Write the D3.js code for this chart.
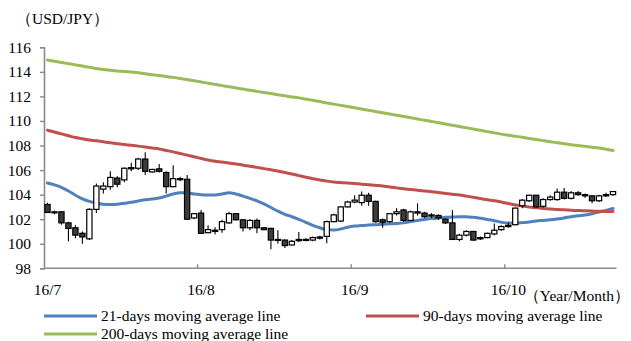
<!DOCTYPE html>
<html>
<head>
<meta charset="utf-8">
<script src="https://cdn.jsdelivr.net/npm/d3@7"></script>
<style>
  html, body { margin: 0; padding: 0; background: #fff; }
  svg text { font-family: "Liberation Serif", "Times New Roman", serif; fill: #000; }
</style>
</head>
<body>
<svg id="chart" width="631" height="341"></svg>
<script>
// USD/JPY daily candles, Jul–Oct 2016
const openPx  = [103.2,102.55,102.6,101.7,101.3,100.85,100.4,102.8,104.45,104.65,105.35,105.2,106.1,106.15,106.9,105.85,106.1,105.8,104.65,105.3,
                 105.25,102.1,102.5,100.9,101.1,101.15,101.7,102.45,101.95,101.3,101.9,101.3,101.25,100.3,100.3,99.9,100.25,100.35,100.3,100.45,
                 100.6,101.8,101.85,103.0,103.4,103.35,103.95,103.45,101.95,101.8,102.45,102.75,101.9,102.6,102.5,102.25,102.3,102.0,101.7,100.35,
                 100.7,101.0,100.4,100.5,100.8,101.15,101.4,101.55,103.1,103.5,103.95,103.05,103.6,103.6,104.2,103.7,104.15,104.0,103.9,103.5,
                 103.9,104.0];
const highPx  = [103.35,102.7,102.65,101.8,101.5,101.0,102.9,104.9,105.0,105.9,105.5,106.2,106.6,107.0,107.45,106.1,106.5,105.9,106.4,105.45,
                 105.6,102.5,102.75,101.5,101.35,101.95,102.6,102.5,102.0,102.0,102.05,101.35,101.3,101.1,100.35,100.3,100.95,100.45,100.6,100.65,
                 101.9,102.45,103.05,103.5,103.95,104.25,104.15,103.5,102.05,102.5,102.9,102.85,102.7,103.3,102.6,102.5,102.4,102.05,102.75,100.8,
                 101.1,101.05,100.6,100.9,101.65,101.5,101.7,102.95,103.65,104.0,104.0,103.7,103.95,104.5,104.55,104.3,104.3,104.1,103.95,104.0,
                 104.15,104.3];
const lowPx   = [102.5,102.4,101.55,100.2,100.45,100.0,100.3,102.5,104.1,104.4,104.6,105.0,105.9,106.0,105.6,105.8,105.8,104.1,104.6,105.1,
                 101.95,102.0,100.8,100.85,100.75,100.9,101.6,101.9,101.0,101.1,100.85,101.1,99.55,100.0,99.65,99.85,100.15,100.2,100.2,100.35,
                 100.05,101.75,101.75,102.95,103.3,103.1,103.1,101.7,101.3,101.7,102.3,101.8,101.85,102.3,102.1,102.1,101.95,101.6,100.3,100.2,
                 100.6,100.25,100.3,100.45,100.7,101.05,101.3,101.5,102.9,103.4,102.95,102.95,103.5,103.5,103.6,103.6,103.9,103.75,103.3,103.4,
                 103.8,103.9];
const closePx = [102.55,102.6,101.7,101.25,100.7,100.55,102.8,104.7,104.7,105.4,104.85,106.15,106.2,106.9,105.9,106.05,105.9,104.65,105.3,105.25,
                 102.0,102.45,100.85,101.15,101.0,101.8,102.45,101.95,101.3,101.9,101.3,101.15,100.3,100.35,99.85,100.2,100.35,100.3,100.5,100.55,
                 101.8,102.35,103.0,103.4,103.55,103.95,103.45,101.8,101.75,102.45,102.6,101.9,102.6,102.5,102.2,102.35,102.1,101.7,100.35,100.7,
                 101.0,100.3,100.5,100.85,101.1,101.4,101.5,102.9,103.55,103.95,103.0,103.6,103.8,104.2,103.7,104.15,104.0,103.9,103.5,103.9,
                 104.0,104.25];

// Moving averages, one value per trading day
const ma21  = [104.95,104.8,104.6,104.3,103.95,103.65,103.45,103.3,103.22,103.2,103.22,103.3,103.38,103.48,103.58,103.65,103.72,103.88,104.05,104.15,
               104.15,104.05,104.0,103.98,103.98,104.05,104.15,104.05,103.88,103.7,103.5,103.25,102.95,102.65,102.4,102.2,101.98,101.75,101.5,101.3,
               101.15,101.12,101.2,101.35,101.44,101.48,101.52,101.55,101.58,101.62,101.65,101.7,101.8,101.9,101.98,102.05,102.1,102.15,102.18,102.2,
               102.2,102.15,102.08,101.98,101.88,101.75,101.68,101.68,101.72,101.78,101.85,101.9,101.95,102.02,102.1,102.2,102.28,102.35,102.45,102.58,
               102.72,102.87];
const ma90  = [109.25,109.1,108.95,108.8,108.65,108.55,108.45,108.38,108.3,108.22,108.15,108.08,108.02,107.95,107.88,107.8,107.72,107.6,107.48,107.35,
               107.22,107.08,106.95,106.82,106.72,106.65,106.57,106.5,106.4,106.32,106.22,106.12,106.02,105.92,105.8,105.68,105.55,105.42,105.3,105.2,
               105.1,105.02,104.98,104.94,104.9,104.85,104.8,104.75,104.7,104.62,104.55,104.48,104.42,104.36,104.3,104.24,104.18,104.1,104.03,103.97,
               103.88,103.78,103.68,103.58,103.5,103.4,103.28,103.16,103.08,103.0,102.94,102.88,102.83,102.79,102.76,102.73,102.7,102.68,102.66,102.65,
               102.63,102.62];
const ma200 = [114.97,114.87,114.77,114.67,114.57,114.47,114.38,114.28,114.2,114.13,114.07,114.03,113.98,113.92,113.85,113.77,113.7,113.62,113.55,113.46,
               113.37,113.28,113.18,113.08,112.98,112.88,112.79,112.69,112.6,112.5,112.41,112.32,112.23,112.14,112.05,111.96,111.88,111.78,111.68,111.58,
               111.47,111.37,111.27,111.17,111.07,110.97,110.87,110.77,110.67,110.57,110.47,110.37,110.27,110.16,110.06,109.96,109.86,109.75,109.65,109.55,
               109.45,109.34,109.24,109.13,109.03,108.93,108.84,108.76,108.67,108.58,108.49,108.4,108.31,108.23,108.15,108.07,108.0,107.93,107.86,107.8,
               107.7,107.6];

// Category-axis labels, one every 22 trading days
const monthLabels = ["16/7", "16/8", "16/9", "16/10"];
const labelEvery = 22;
const yTicks = [98, 100, 102, 104, 106, 108, 110, 112, 114, 116];

const seriesNames = ["21-days moving average line", "90-days moving average line", "200-days moving average line"];
const seriesColors = ["#4F81BD", "#C0504D", "#9BBB59"];

(function draw() {
  const days = d3.range(closePx.length);
  const candles = days.map(i => ({ i, o: openPx[i], h: highPx[i], l: lowPx[i], c: closePx[i] }));

  const svg = d3.select("#chart");
  const plotLeft = 44, plotRight = 616.5, plotTop = 47.3, plotBottom = 268.3;
  const axisColor = "#8a8a8a";
  const fontSize = 15.5;

  const x = d3.scaleBand().domain(days).range([plotLeft, plotRight]).paddingInner(0.25).paddingOuter(0.125);
  const y = d3.scaleLinear().domain([98, 116]).range([plotBottom, plotTop]);
  const step = x.step();
  const center = i => x(i) + x.bandwidth() / 2;

  // Y axis
  const yAxis = svg.append("g")
    .attr("transform", `translate(${plotLeft},0)`)
    .call(d3.axisLeft(y).tickValues(yTicks).tickSize(4).tickPadding(9).tickFormat(d3.format("d")));
  yAxis.select(".domain").attr("stroke", axisColor).attr("stroke-width", 1.6);
  yAxis.selectAll(".tick line").attr("stroke", axisColor).attr("stroke-width", 1.4);
  yAxis.selectAll(".tick text").attr("font-size", fontSize).attr("font-family", "Liberation Serif, serif").attr("fill", "#000");

  // X axis line and month ticks (ticks sit on category boundaries, pointing up)
  svg.append("line")
    .attr("x1", plotLeft).attr("x2", plotRight).attr("y1", plotBottom).attr("y2", plotBottom)
    .attr("stroke", axisColor).attr("stroke-width", 1.6);
  const labelIdx = monthLabels.map((_, k) => k * labelEvery);
  svg.append("g").selectAll("line").data(labelIdx.slice(1)).join("line")
    .attr("x1", d => x(d) - (step - x.bandwidth()) / 2)
    .attr("x2", d => x(d) - (step - x.bandwidth()) / 2)
    .attr("y1", plotBottom).attr("y2", plotBottom - 4)
    .attr("stroke", axisColor).attr("stroke-width", 1.4);
  svg.append("g").selectAll("text").data(labelIdx).join("text")
    .attr("x", d => center(d))
    .attr("y", plotBottom + 27)
    .attr("text-anchor", "middle")
    .attr("font-size", fontSize)
    .text((d, k) => monthLabels[k]);

  // Unit labels
  svg.append("text").attr("x", 16).attr("y", 24).attr("font-size", fontSize).text("（USD/JPY）");
  svg.append("text").attr("x", 630).attr("y", 301).attr("text-anchor", "end")
    .attr("font-size", fontSize).text("（Year/Month）");

  // Moving average lines
  const line = d3.line().x((d, i) => center(i)).y(d => y(d)).curve(d3.curveMonotoneX);
  [ma21, ma90, ma200].forEach((s, k) => {
    svg.append("path").datum(s)
      .attr("d", line)
      .attr("fill", "none")
      .attr("stroke", seriesColors[k])
      .attr("stroke-width", 3)
      .attr("stroke-linejoin", "round")
      .attr("stroke-linecap", "round");
  });

  // Candlesticks
  const cg = svg.append("g");
  cg.selectAll("line.wick").data(candles).join("line")
    .attr("class", "wick")
    .attr("x1", d => center(d.i)).attr("x2", d => center(d.i))
    .attr("y1", d => y(d.h)).attr("y2", d => y(d.l))
    .attr("stroke", "#000").attr("stroke-width", 1.1);
  cg.selectAll("rect.body").data(candles).join("rect")
    .attr("class", "body")
    .attr("x", d => x(d.i))
    .attr("width", x.bandwidth())
    .attr("y", d => y(Math.max(d.o, d.c)))
    .attr("height", d => Math.max(1, Math.abs(y(d.o) - y(d.c))))
    .attr("fill", d => d.c >= d.o ? "#ffffff" : "#3c3c3c")
    .attr("stroke", "#000").attr("stroke-width", 1.2);

  // Legend
  const legendItems = [
    { k: 0, lx: 44, ly: 316 },
    { k: 1, lx: 366, ly: 316 },
    { k: 2, lx: 44, ly: 334 }
  ];
  const lg = svg.append("g");
  legendItems.forEach(({ k, lx, ly }) => {
    lg.append("line")
      .attr("x1", lx).attr("x2", lx + 53).attr("y1", ly).attr("y2", ly)
      .attr("stroke", seriesColors[k]).attr("stroke-width", 3);
    lg.append("text")
      .attr("x", lx + 57).attr("y", ly + 5)
      .attr("font-size", fontSize)
      .text(seriesNames[k]);
  });
})();
</script>
</body>
</html>
